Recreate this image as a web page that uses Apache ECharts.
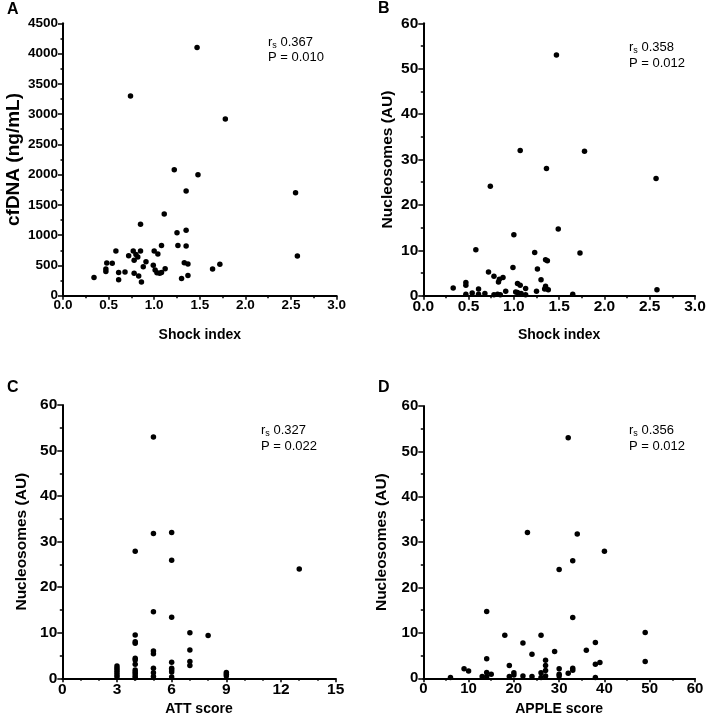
<!DOCTYPE html>
<html>
<head>
<meta charset="utf-8">
<script src="https://cdn.jsdelivr.net/npm/echarts@6/dist/echarts.min.js"></script>
<style>
  html, body { margin: 0; padding: 0; background: #fff; }
  #chart { width: 709px; height: 726px; }
</style>
</head>
<body>
<div id="chart"></div>
<script>
// Panel A: shock index vs cfDNA (ng/mL)
const panelA = [
  [1.47, 4100], [0.74, 3300], [1.78, 2920], [1.22, 2080], [1.48, 2000],
  [2.55, 1700], [1.35, 1730], [1.11, 1350], [2.57, 655],
  [0.85, 1180], [1.25, 1040], [1.35, 1080],
  [0.58, 740], [0.77, 740], [0.85, 740], [1.00, 740],
  [1.08, 830], [1.26, 830], [1.35, 820],
  [0.72, 660], [0.80, 680], [0.82, 640], [0.78, 585], [1.04, 690],
  [0.48, 540], [0.54, 535], [0.91, 560], [0.88, 480], [0.99, 505],
  [0.47, 440], [0.47, 400], [0.61, 385], [0.68, 390], [0.78, 370],
  [0.83, 325], [0.61, 265], [0.86, 225], [0.34, 300],
  [1.01, 425], [1.03, 380], [1.06, 370], [1.08, 385], [1.12, 445],
  [1.33, 545], [1.37, 525], [1.30, 285], [1.37, 335], [1.64, 440], [1.72, 520]
];

// Panel B: shock index vs nucleosomes (AU)
const panelB = [
  [1.47, 53.0], [1.07, 32.0], [1.78, 31.8], [1.36, 28.0], [2.57, 25.8],
  [0.74, 24.1], [1.49, 14.7], [1.00, 13.4],
  [0.58, 10.1], [1.23, 9.5], [1.73, 9.4], [1.35, 7.9], [1.37, 7.7],
  [0.99, 6.2], [1.26, 5.9], [0.72, 5.2], [0.78, 4.3], [0.88, 4.0],
  [0.84, 3.6], [0.83, 3.0], [1.30, 3.5], [1.04, 2.7], [1.07, 2.3],
  [1.13, 1.6], [1.35, 2.1], [1.34, 1.5], [1.38, 1.3], [0.47, 2.9],
  [0.47, 2.3], [0.33, 1.7], [0.61, 1.5], [0.91, 1.0], [1.25, 1.0],
  [1.02, 0.8], [1.04, 0.7], [1.08, 0.5],
  [0.47, 0.3], [0.54, 0.6], [0.61, 0.3], [0.68, 0.5], [0.78, 0.2],
  [0.82, 0.3], [0.85, 0.2], [1.13, 0.2], [1.65, 0.3], [2.58, 1.3]
];

// Panel C: ATT score vs nucleosomes (AU)
const panelC = [
  [3, 2.7], [3, 2.2], [3, 1.7], [3, 1.2], [3, 0.7], [3, 0.3],
  [4, 27.9], [4, 9.5], [4, 8.0], [4, 7.7], [4, 4.4], [4, 4.0], [4, 3.1],
  [4, 1.8], [4, 1.4], [4, 1.0], [4, 0.5], [4, 0.1],
  [5, 53.0], [5, 31.8], [5, 14.6], [5, 6.0], [5, 5.4], [5, 2.2], [5, 1.2], [5, 0.4],
  [6, 32.0], [6, 25.9], [6, 13.4], [6, 3.5], [6, 2.2], [6, 1.8], [6, 1.4], [6, 0.3],
  [7, 10.0], [7, 6.2], [7, 3.7], [7, 2.8],
  [8, 9.4],
  [9, 1.3], [9, 0.9], [9, 0.5],
  [13, 24.0]
];

// Panel D: APPLE score vs nucleosomes (AU)
const panelD = [
  [32, 53.0], [23, 32.1], [34, 31.8], [40, 28.0], [33, 25.9], [30, 24.0],
  [14, 14.7], [33, 13.4], [49, 10.1], [18, 9.5], [26, 9.5], [22, 7.8],
  [38, 7.9], [36, 6.2], [29, 5.9], [24, 5.3], [14, 4.3], [27, 4.0],
  [49, 3.7], [39, 3.5], [38, 3.1], [27, 2.8], [19, 2.8], [9, 2.1],
  [10, 1.6], [30, 2.1], [33, 2.2], [33, 1.8], [27, 1.7], [14, 1.3],
  [15, 0.9], [20, 1.25], [26, 1.25], [32, 1.1], [30, 0.9], [30, 0.5],
  [20, 0.7], [19, 0.4], [22, 0.5], [6, 0.2], [13, 0.4], [14, 0.4],
  [24, 0.4], [26, 0.2], [27, 0.5], [38, 0.15]
];

const panelLetters = ['A', 'B', 'C', 'D'];
const xTitles = ['Shock index', 'Shock index', 'ATT score', 'APPLE score'];
const yTitles = ['cfDNA (ng/mL)', 'Nucleosomes (AU)', 'Nucleosomes (AU)', 'Nucleosomes (AU)'];
const rsValues = ['0.367', '0.358', '0.327', '0.356'];
const pValues = ['P = 0.010', 'P = 0.012', 'P = 0.022', 'P = 0.012'];

const font = '"Liberation Sans", Arial, Helvetica, sans-serif';

// grid boxes [left, top, width, height]
const grids = [
  [63, 23.3, 273.6, 272.4],
  [423.3, 23.3, 271.7, 272.4],
  [62.3, 405, 273.4, 273.3],
  [423.3, 406, 271.7, 272.3]
];

// axis ranges [min, max, interval, minor splits]
const xRanges = [[0, 3, 0.5, 2], [0, 3, 0.5, 2], [0, 15, 3, 3], [0, 60, 10, 2]];
const yRanges = [[0, 4500, 500, 2], [0, 60, 10, 2], [0, 60, 10, 2], [0, 60, 10, 2]];
const tickSize = [13.5, 15.5, 15.5, 15];
const yTitleSize = [19, 15.5, 15.5, 15.5];
const yNameGap = [40, 28, 33, 34];
const xNameGap = [32, 32, 24, 24];
const notePos = [[268, 42, 15], [629, 47, 16.5], [261, 430, 16.5], [629, 430, 16.5]];
const letterPos = [[7, 9.5], [378, 8.7], [7, 387.5], [378, 387.5]];

function axisStyle(range, size) {
  return {
    min: range[0],
    max: range[1],
    interval: range[2],
    axisLine: { show: true, onZero: false, lineStyle: { color: '#000', width: 2 } },
    axisTick: { show: true, length: 4, lineStyle: { color: '#000', width: 1.5 } },
    minorTick: { show: true, splitNumber: range[3], length: 2.5, lineStyle: { color: '#000', width: 1.5 } },
    splitLine: { show: false },
    axisLabel: {
      color: '#000', fontFamily: font, fontWeight: 'bold', fontSize: size,
      showMinLabel: true, showMaxLabel: true,
      formatter: (v) => String(v)
    }
  };
}

const xAxes = xRanges.map((r, i) => {
  const ax = axisStyle(r, tickSize[i]);
  ax.type = 'value';
  ax.gridIndex = i;
  ax.axisLabel.margin = 3;
  if (i < 2) ax.axisLabel.formatter = (v) => v.toFixed(1);
  ax.name = xTitles[i];
  ax.nameLocation = 'middle';
  ax.nameGap = xNameGap[i];
  ax.nameTextStyle = { color: '#000', fontFamily: font, fontWeight: 'bold', fontSize: 14 };
  return ax;
});

const yAxes = yRanges.map((r, i) => {
  const ax = axisStyle(r, tickSize[i]);
  ax.type = 'value';
  ax.gridIndex = i;
  ax.axisTick.length = 5;
  ax.axisLabel.margin = 5;
  ax.name = yTitles[i];
  ax.nameLocation = 'middle';
  ax.nameRotate = 90;
  ax.nameGap = yNameGap[i];
  ax.nameTextStyle = { color: '#000', fontFamily: font, fontWeight: 'bold', fontSize: yTitleSize[i] };
  return ax;
});

const panels = [panelA, panelB, panelC, panelD];

const series = panels.map((data, i) => ({
  type: 'scatter',
  xAxisIndex: i,
  yAxisIndex: i,
  data: data,
  symbol: 'circle',
  symbolSize: 5.5,
  itemStyle: { color: '#000', opacity: 1 },
  emphasis: { disabled: true }
}));

const graphics = [];
panelLetters.forEach((letter, i) => {
  graphics.push({
    type: 'text',
    x: letterPos[i][0],
    y: letterPos[i][1],
    style: {
      text: letter, fill: '#000', fontFamily: font, fontWeight: 'bold',
      fontSize: 16, verticalAlign: 'middle', align: 'left'
    }
  });
  const [nx, ny, gap] = notePos[i];
  graphics.push({
    type: 'text',
    x: nx,
    y: ny,
    style: {
      text: '{r|r}{s|s}{r| ' + rsValues[i] + '}',
      verticalAlign: 'middle', align: 'left',
      rich: {
        r: { fontFamily: font, fontSize: 13, fill: '#000', color: '#000' },
        s: { fontFamily: font, fontSize: 9, fill: '#000', color: '#000', padding: [7, 0, 0, 0] }
      }
    }
  });
  graphics.push({
    type: 'text',
    x: nx,
    y: ny + gap,
    style: {
      text: pValues[i], fill: '#000', fontFamily: font, fontSize: 13,
      verticalAlign: 'middle', align: 'left'
    }
  });
});

const chart = echarts.init(document.getElementById('chart'));
chart.setOption({
  animation: false,
  backgroundColor: '#fff',
  grid: grids.map((g) => ({ left: g[0], top: g[1], width: g[2], height: g[3] })),
  xAxis: xAxes,
  yAxis: yAxes,
  series: series,
  graphic: graphics
});
</script>
</body>
</html>
